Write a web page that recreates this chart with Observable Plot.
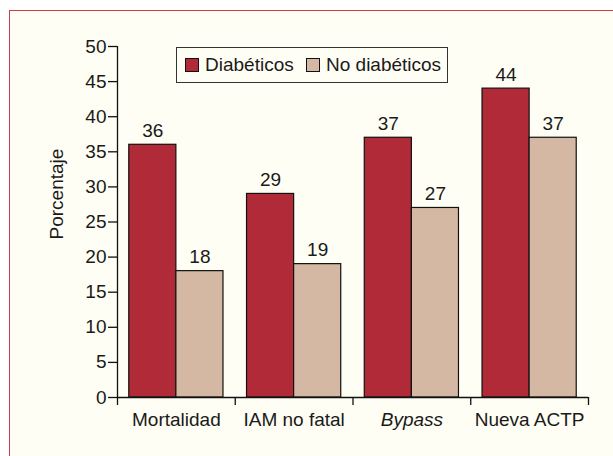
<!DOCTYPE html>
<html><head><meta charset="utf-8">
<script src="https://cdn.jsdelivr.net/npm/d3@7"></script>
<script src="https://cdn.jsdelivr.net/npm/@observablehq/plot@0.6"></script>
<style>
html,body{margin:0;padding:0;background:#fff;}
body{width:613px;height:456px;overflow:hidden;position:relative;font-family:"Liberation Sans",Arial,sans-serif;color:#1a1a1a;}
#panel{position:absolute;left:9px;top:10px;width:700px;height:500px;border:1px solid #d03a4a;background:#fffef4;}
#chart{position:absolute;left:0;top:0;}
#legend{position:absolute;left:176px;top:47px;width:272px;height:36px;box-sizing:border-box;border:1.5px solid #333;background:#fffef4;}
.item{position:absolute;top:0;height:33px;display:flex;align-items:center;font-size:19px;white-space:nowrap;}
.sw{width:12px;height:12px;border:1px solid #111;margin-right:6px;flex:none;}
</style></head>
<body>
<div id="panel"></div>
<div id="chart"></div>
<div id="legend"></div>
<script>
const categories = ["Mortalidad", "IAM no fatal", "Bypass", "Nueva ACTP"];
const italicCategories = ["Bypass"];
const groups = ["Diabéticos", "No diabéticos"];
const diabeticos = [36, 29, 37, 44];
const noDiabeticos = [18, 19, 27, 37];
const yTicks = [0, 5, 10, 15, 20, 25, 30, 35, 40, 45, 50];
const colors = ["#b12a37", "#d5b8a3"];
const yLabel = "Porcentaje";

const series = [diabeticos, noDiabeticos];
const rows = [];
categories.forEach((cat, i) => {
  groups.forEach((g, gi) => rows.push({cat, i, group: g, gi, value: series[gi][i]}));
});
const catRows = categories.map((cat, i) => ({cat, i, italic: italicCategories.includes(cat)}));

const FONT = 19;
const plot = Plot.plot({
  width: 613, height: 456,
  marginLeft: 117, marginRight: 25, marginTop: 46, marginBottom: 59,
  style: {background: "transparent", fontFamily: '"Liberation Sans",Arial,sans-serif', color: "#1a1a1a"},
  x: {domain: [0, categories.length], axis: null},
  y: {domain: [0, 50], axis: null},
  color: {domain: groups, range: colors},
  marks: [
    Plot.rectY(rows, {x1: d => d.i + 0.1 + d.gi * 0.4, x2: d => d.i + 0.5 + d.gi * 0.4, y1: 0, y2: "value", fill: "group", stroke: "#111", strokeWidth: 1.2}),
    Plot.text(rows, {x: d => d.i + 0.3 + d.gi * 0.4, y: "value", text: "value", dy: -8, lineAnchor: "bottom", fontSize: FONT, fill: "#1a1a1a"}),
    Plot.axisY({ticks: yTicks, tickSize: 9, tickPadding: 2, fontSize: FONT, label: null, stroke: "#111", strokeWidth: 1.3}),
    Plot.ruleX([0], {y1: 0, y2: 50, stroke: "#111", strokeWidth: 1.3}),
    Plot.ruleY([0], {stroke: "#111", strokeWidth: 1.3}),
    Plot.axisX({ticks: d3.range(categories.length + 1), tickSize: 8, tickFormat: () => "", label: null, stroke: "#111", strokeWidth: 1.3}),
    Plot.text(catRows.filter(d => !d.italic), {x: d => d.i + 0.5, y: 0, text: "cat", dy: 28.5, lineAnchor: "bottom", fontSize: FONT, fill: "#1a1a1a"}),
    Plot.text(catRows.filter(d => d.italic), {x: d => d.i + 0.5, y: 0, text: "cat", dy: 28.5, lineAnchor: "bottom", fontSize: FONT, fontStyle: "italic", fill: "#1a1a1a"}),
    Plot.text([yLabel], {frameAnchor: "left", text: d => d, rotate: -90, dx: -60.5, dy: 17.5, fontSize: FONT, fill: "#1a1a1a"})
  ]
});
document.getElementById("chart").appendChild(plot);

const legend = document.getElementById("legend");
const lefts = [8, 129];
groups.forEach((g, gi) => {
  const it = document.createElement("div");
  it.className = "item";
  it.style.left = lefts[gi] + "px";
  const sw = document.createElement("span");
  sw.className = "sw";
  sw.style.background = colors[gi];
  it.appendChild(sw);
  it.appendChild(document.createTextNode(g));
  legend.appendChild(it);
});
</script>
</body></html>
